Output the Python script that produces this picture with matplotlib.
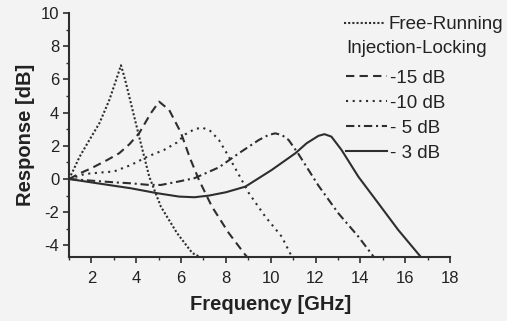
import matplotlib
matplotlib.use("Agg")
import matplotlib.pyplot as plt
from matplotlib.ticker import MultipleLocator

plt.rcParams['font.family'] = ['Liberation Sans', 'DejaVu Sans']
plt.rcParams['axes.unicode_minus'] = False

# Free-running
fr_x = [1.0, 1.2, 1.47, 1.91, 2.36, 2.8, 3.1, 3.32, 3.5, 3.69, 4.13, 4.58, 5.1, 5.82, 6.5, 6.85]
fr_y = [0.0, 0.55, 1.33, 2.35, 3.37, 4.76, 5.96, 6.85, 6.0, 4.96, 2.55, 0.14, -1.67, -3.26, -4.46, -4.7]
# Injection-locking -15 dB
m15_x = [1.0, 1.5, 2.0, 2.7, 3.24, 3.7, 4.13, 4.65, 5.02, 5.47, 5.99, 6.4, 6.8, 7.38, 8.13, 8.87, 8.95]
m15_y = [0.0, 0.35, 0.65, 1.14, 1.55, 2.1, 2.76, 3.96, 4.66, 4.16, 2.8, 1.25, -0.06, -1.67, -3.26, -4.58, -4.7]
# -10 dB
m10_x = [1.0, 1.7, 2.5, 3.0, 3.76, 4.49, 5.24, 5.82, 6.2, 6.6, 6.94, 7.3, 7.69, 8.13, 8.6, 9.02, 9.76, 10.49, 10.95]
m10_y = [0.0, 0.3, 0.4, 0.45, 0.84, 1.34, 1.75, 2.2, 2.7, 3.0, 3.1, 2.9, 2.35, 1.34, 0.2, -0.84, -2.27, -3.47, -4.7]
# -5 dB
m5_x = [1.0, 2.0, 3.0, 3.76, 4.5, 5.1, 5.9, 6.6, 7.69, 8.58, 9.47, 9.9, 10.2, 10.5, 10.8, 11.24, 12.13, 13.02, 13.91, 14.6]
m5_y = [0.0, -0.1, -0.2, -0.26, -0.35, -0.36, -0.15, 0.05, 0.7, 1.55, 2.35, 2.65, 2.75, 2.65, 2.35, 1.5, -0.4, -2.07, -3.47, -4.7]
# -3 dB
m3_x = [1.0, 2.27, 3.76, 4.95, 5.91, 6.6, 7.24, 8.0, 8.87, 10.04, 11.1, 11.6, 12.13, 12.4, 12.71, 13.16, 13.91, 14.8, 15.69, 16.7]
m3_y = [0.0, -0.26, -0.56, -0.86, -1.06, -1.1, -1.0, -0.8, -0.46, 0.54, 1.55, 2.15, 2.6, 2.7, 2.55, 1.75, 0.14, -1.46, -3.07, -4.7]

x_ticks = [2, 4, 6, 8, 10, 12, 14, 16, 18]
y_ticks = [-4, -2, 0, 2, 4, 6, 8, 10]

bg = '#f3f3f3'
lc = '#2e2e2e'

fig = plt.figure(figsize=(5.07, 3.21), dpi=100, facecolor=bg)
ax = fig.add_axes([69/507, 1-257/321, (450-69)/507, (257-13)/321], facecolor=bg)

l_fr, = ax.plot(fr_x, fr_y, color=lc, lw=1.5, linestyle=(0, (1, 1)))
l15, = ax.plot(m15_x, m15_y, color=lc, lw=1.5, linestyle=(0, (4, 2.5)))
l10, = ax.plot(m10_x, m10_y, color=lc, lw=1.5, linestyle=(0, (1, 2.2)))
l5, = ax.plot(m5_x, m5_y, color=lc, lw=1.5, linestyle=(0, (4, 1.8, 1, 1.8)))
l3, = ax.plot(m3_x, m3_y, color=lc, lw=1.5, linestyle='-')

ax.set_xlim(1, 18)
ax.set_ylim(-4.7, 10)
ax.set_xticks(x_ticks)
ax.set_yticks(y_ticks)
ax.xaxis.set_minor_locator(MultipleLocator(1))
ax.yaxis.set_minor_locator(MultipleLocator(1))
for s in ['top', 'right']:
    ax.spines[s].set_visible(False)
for s in ['left', 'bottom']:
    ax.spines[s].set_color(lc)
    ax.spines[s].set_linewidth(1.5)
ax.tick_params(which='major', direction='out', length=4, width=1.2, color=lc,
               labelsize=12, labelcolor='#222222')
ax.tick_params(axis='x', which='major', pad=6)
ax.tick_params(axis='y', which='major', pad=3)
ax.tick_params(which='minor', direction='out', length=2.5, width=1.0, color=lc)

ax.set_xlabel('Frequency [GHz]', fontsize=14.5, fontweight='bold', color='#222222')
ax.set_ylabel('Response [dB]', fontsize=14.5, fontweight='bold', color='#222222', labelpad=4)
ax.xaxis.set_label_coords((271-69)/(450-69), -(295-257)/(257-13))

leg1 = fig.legend([l_fr], ['Free-Running'], loc='upper left',
                  bbox_to_anchor=(344/507, 1-16/321), frameon=False,
                  fontsize=13.5, handlelength=2.2, handletextpad=0.15,
                  borderpad=0, borderaxespad=0)
leg2 = fig.legend([l15, l10, l5, l3], ['-15 dB', '-10 dB', '- 5 dB', '- 3 dB'],
                  loc='upper left', bbox_to_anchor=(346/507, 1-40/321),
                  frameon=False, fontsize=13.5, title='Injection-Locking',
                  title_fontsize=13.5, alignment='left',
                  handlelength=2.2, handletextpad=0.15, labelspacing=0.42,
                  borderpad=0, borderaxespad=0)
for t in leg1.get_texts() + leg2.get_texts() + [leg2.get_title()]:
    t.set_color('#222222')
leg2._legend_box.sep = 9

fig.savefig('out.png', dpi=100, facecolor=bg)
